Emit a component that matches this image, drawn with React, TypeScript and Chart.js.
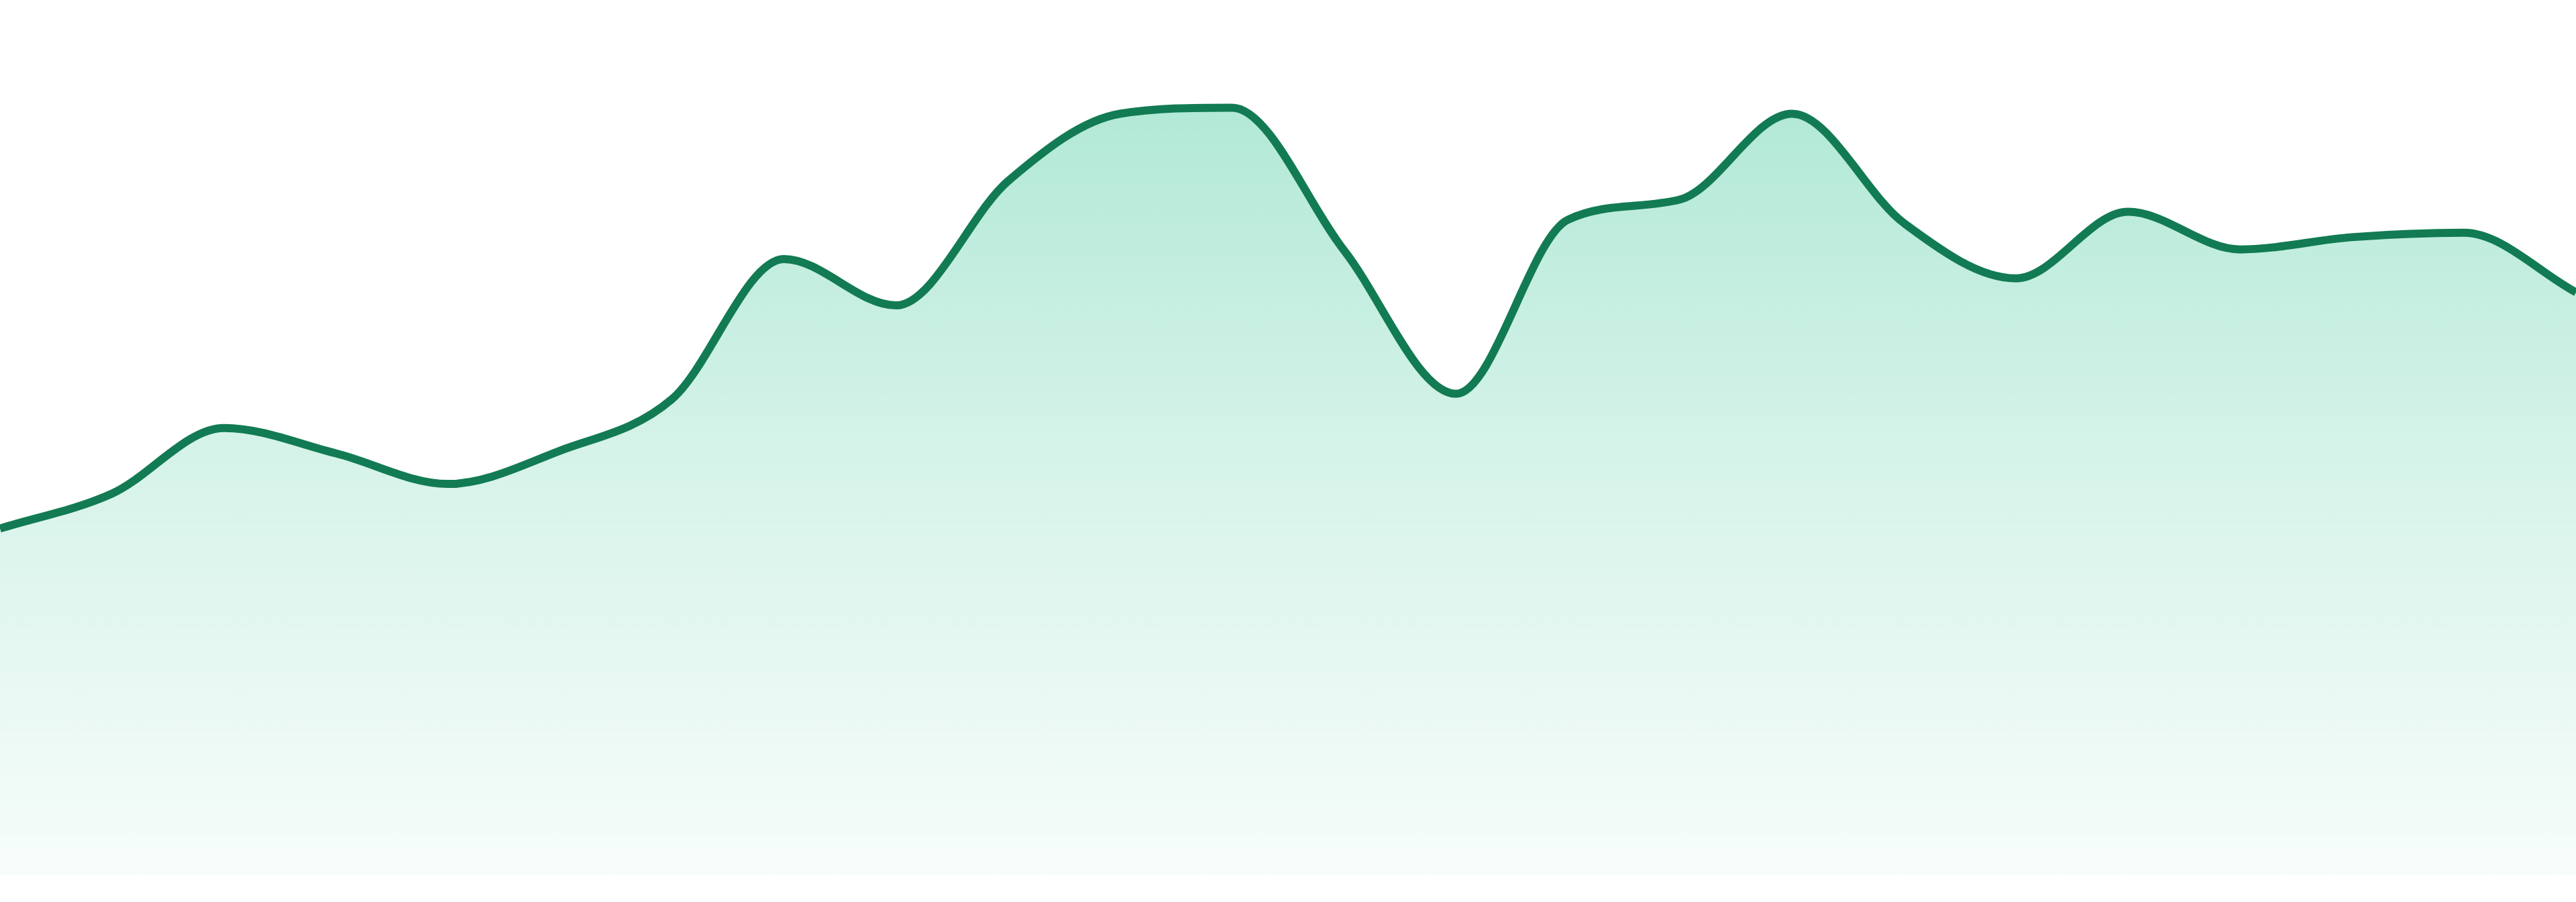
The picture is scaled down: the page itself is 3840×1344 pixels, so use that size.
import React, { useRef, useEffect } from 'react';
import Chart from 'chart.js/auto';

const labels = [
  'P1', 'P2', 'P3', 'P4', 'P5', 'P6', 'P7', 'P8', 'P9', 'P10', 'P11', 'P12',
  'P13', 'P14', 'P15', 'P16', 'P17', 'P18', 'P19', 'P20', 'P21', 'P22', 'P23', 'P24',
];

const values = [
  39.6, 43.6, 51.1, 48.2, 44.7, 48.5, 54.4, 70.4, 65.1, 79.3, 87.0, 87.7,
  71.4, 55.0, 74.9, 77.2, 87.0, 74.5, 68.2, 75.8, 71.5, 72.9, 73.4, 66.6,
];

const yMin = 0;
const yMax = 100;

const App = () => {
  const chartRef = useRef<HTMLCanvasElement>(null);

  useEffect(() => {
    const ctx = chartRef.current?.getContext('2d');
    if (!ctx) return;

    const myChart = new Chart(ctx, {
      type: 'line',
      data: {
        labels,
        datasets: [
          {
            data: values,
            borderColor: '#127b53',
            borderWidth: 12,
            cubicInterpolationMode: 'monotone',
            pointRadius: 0,
            fill: 'start',
            backgroundColor: (context: any) => {
              const area = context.chart.chartArea;
              if (!area) return 'rgba(16,185,129,0.2)';
              const g = context.chart.ctx.createLinearGradient(0, area.top, 0, area.bottom);
              g.addColorStop(0, 'rgba(16,185,129,0.37)');
              g.addColorStop(0.5, 'rgba(16,185,129,0.18)');
              g.addColorStop(1, 'rgba(16,185,129,0.03)');
              return g;
            },
          },
        ],
      },
      options: {
        animation: false,
        responsive: true,
        maintainAspectRatio: false,
        layout: { padding: { top: 0, left: 0, right: 0, bottom: 40 } },
        plugins: {
          legend: { display: false },
          tooltip: { enabled: false },
        },
        scales: {
          x: { display: false },
          y: { display: false, min: yMin, max: yMax },
        },
      },
    });

    return () => {
      myChart.destroy();
    };
  }, []);

  return (
    <div style={{ position: 'fixed', left: 0, top: 0, width: '100vw', height: '100vh', background: '#fff' }}>
      <canvas ref={chartRef}></canvas>
    </div>
  );
};

export default App;
